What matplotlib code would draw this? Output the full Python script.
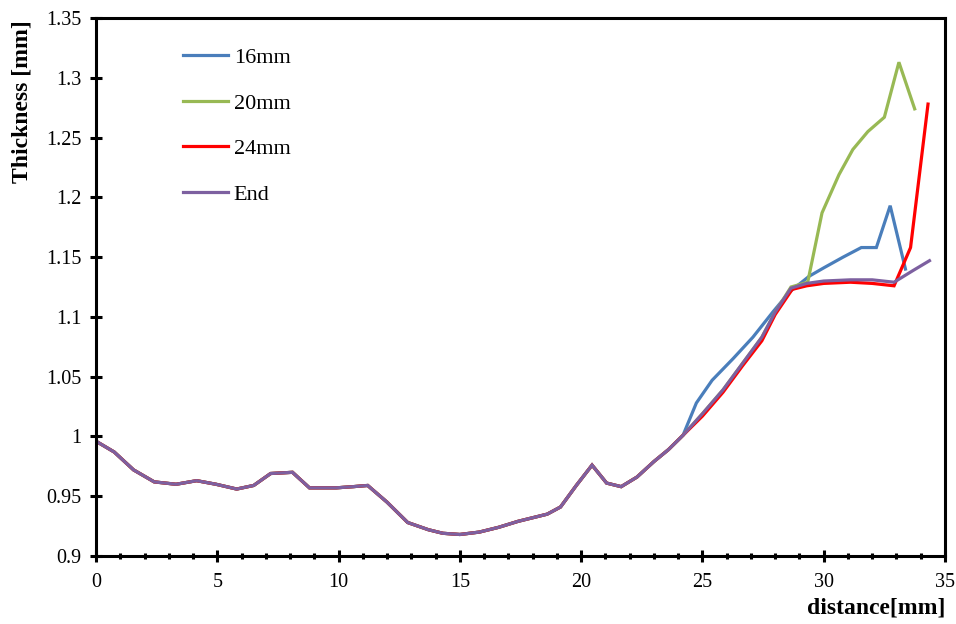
import matplotlib
matplotlib.use("Agg")
import matplotlib.pyplot as plt
from matplotlib.ticker import MultipleLocator

# ---- data ----
x_common = [0, 0.75, 1.55, 2.4, 3.3, 4.15, 4.95, 5.8, 6.5, 7.2, 8.1, 8.8, 9.9,
            10.6, 11.2, 12.0, 12.85, 13.7, 14.3, 15.0, 15.8, 16.6, 17.4, 18.2,
            18.6, 19.15, 19.8, 20.45, 21.05, 21.65, 22.3, 23.0, 23.6, 24.2]
y_common = [0.996, 0.987, 0.972, 0.962, 0.960, 0.963, 0.960, 0.956, 0.959, 0.969,
            0.970, 0.957, 0.957, 0.958, 0.959, 0.945, 0.928, 0.922, 0.919, 0.918,
            0.920, 0.924, 0.929, 0.933, 0.935, 0.941, 0.959, 0.976, 0.961, 0.958,
            0.966, 0.979, 0.989, 1.001]

x_end_tail = [25.0, 25.85, 26.65, 27.45, 28.0, 28.65, 29.3, 30.0, 31.1, 32.0, 32.9, 33.7, 34.36]
y_end_tail = [1.019, 1.039, 1.061, 1.083, 1.104, 1.124, 1.128, 1.130, 1.131, 1.131, 1.129, 1.139, 1.147]

x_24_tail = [25.0, 25.85, 26.65, 27.45, 28.0, 28.7, 29.3, 30.0, 31.1, 32.0, 32.9, 33.58, 34.3]
y_24_tail = [1.017, 1.037, 1.059, 1.080, 1.102, 1.123, 1.126, 1.128, 1.129, 1.128, 1.126, 1.158, 1.278]

x_20_tail = [25.0, 25.85, 26.65, 27.45, 28.0, 28.65, 29.34, 29.93, 30.63, 31.2, 31.82, 32.5, 33.1, 33.75]
y_20_tail = [1.019, 1.039, 1.061, 1.083, 1.104, 1.125, 1.129, 1.187, 1.219, 1.240, 1.255, 1.267, 1.313, 1.274]

x_16_tail = [24.75, 25.4, 26.26, 27.08, 27.9, 28.6, 29.4, 30.0, 30.8, 31.55, 32.17, 32.74, 33.37]
y_16_tail = [1.028, 1.047, 1.065, 1.083, 1.104, 1.121, 1.134, 1.141, 1.150, 1.158, 1.158, 1.193, 1.140]

labels = ["16mm", "20mm", "24mm", "End"]
colors = ["#4A7EBB", "#98B954", "#FF0000", "#7D60A0"]

series = [
    (x_common + x_16_tail, y_common + y_16_tail),
    (x_common + x_20_tail, y_common + y_20_tail),
    (x_common + x_24_tail, y_common + y_24_tail),
    (x_common + x_end_tail, y_common + y_end_tail),
]

plt.rcParams['font.family'] = ['Liberation Serif', 'DejaVu Serif']

fig = plt.figure(figsize=(9.56, 6.24), dpi=100)
ax = fig.add_axes([96/956, 1-556/624, (945-96)/956, (556-18)/624])

for (xs, ys), lab, c in zip(series, labels, colors):
    ax.plot(xs, ys, color=c, lw=2.3, label=lab, solid_joinstyle='miter')

ax.set_xlim(0, 35)
ax.set_ylim(0.9, 1.35)
ax.xaxis.set_major_locator(MultipleLocator(5))
ax.xaxis.set_minor_locator(MultipleLocator(1))
ax.set_yticks([0.9, 0.95, 1.0, 1.05, 1.1, 1.15, 1.2, 1.25, 1.3, 1.35])
ax.set_yticklabels(["0.9", "0.95", "1", "1.05", "1.1", "1.15", "1.2", "1.25", "1.3", "1.35"])

for s in ax.spines.values():
    s.set_linewidth(2.2)
ax.tick_params(axis='both', which='major', direction='inout', length=9, width=2.2,
               labelsize=14.5, pad=6)
ax.tick_params(axis='x', which='minor', direction='inout', length=5, width=2.2)
ax.tick_params(axis='x', which='major', pad=8)

fig.text(22/956, 1-102/624, "Thickness [mm]", rotation=90, ha='center', va='center',
         fontsize=17, fontweight='bold')
fig.text(945/956, 1-608/624, "distance[mm]", ha='right', va='center',
         fontsize=17, fontweight='bold')

leg = ax.legend(loc='upper left', bbox_to_anchor=(0.092, 0.962), frameon=False,
                fontsize=16, handlelength=2.03, handletextpad=0.25, labelspacing=1.13,
                borderaxespad=0)

fig.savefig("out.png", dpi=100)
